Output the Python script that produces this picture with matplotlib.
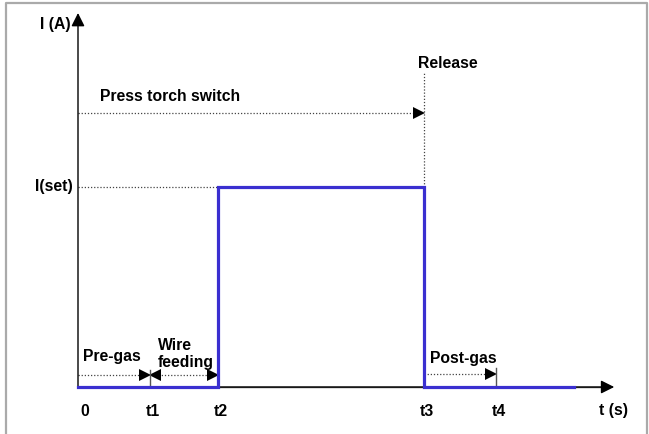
import matplotlib.pyplot as plt

plt.rcParams['font.family'] = ['Liberation Sans', 'DejaVu Sans']

# time marks (arbitrary units) and current levels
tick_names = ['0', 't1', 't2', 't3', 't4']
tick_times = [0, 1.03, 2.0, 4.94, 5.97]
t_end = 7.09
i_set = 1.0
i_press = 1.37
i_release_top = 1.575

# welding current waveform
wave_t = [0, tick_times[2], tick_times[2], tick_times[3], tick_times[3], t_end]
wave_i = [0, 0, i_set, i_set, 0, 0]

fig = plt.figure(figsize=(6.49, 4.34), dpi=100)
ax = fig.add_axes([0, 0, 1, 1])
ax.set_xlim(-78 / 70, (649 - 78) / 70)
ax.set_ylim(-(434 - 387) / 200, 387 / 200)
ax.axis('off')

# frame around the picture (left, top, right)
fig.add_artist(plt.Line2D([6 / 649, 6 / 649, 647 / 649, 647 / 649],
                          [0, 1 - 3 / 434, 1 - 3 / 434, 0],
                          color='#aaaaaa', lw=1.6, transform=fig.transFigure))

axis_col = '#555555'
# axes with arrows
ax.annotate('', xy=(7.66, 0), xytext=(0, 0),
            arrowprops=dict(arrowstyle='-|>', color=axis_col, lw=1.0, mutation_scale=20,
                            shrinkA=0, shrinkB=0, fc='black', ec='black'))
ax.plot([0, 7.5], [0, 0], color=axis_col, lw=1.0, zorder=1)
ax.annotate('', xy=(0, 1.87), xytext=(0, 0),
            arrowprops=dict(arrowstyle='-|>', color='black', lw=1.0, mutation_scale=20,
                            shrinkA=0, shrinkB=0))

# current waveform
ax.plot(wave_t, wave_i, color='#3a2fd0', lw=2.3, solid_joinstyle='miter', zorder=3)

dot = dict(color='#444444', lw=0.9, linestyle=(0, (1, 1.5)))

# I(set) guide
ax.plot([0, tick_times[2]], [i_set, i_set], **dot)
# release guide
ax.plot([tick_times[3], tick_times[3]], [i_set, i_release_top], **dot)


def dotted_arrow(x0, x1, y, both=False):
    ax.plot([x0, x1], [y, y], **dot)
    ax.plot([x1], [y], marker='>', color='black', ms=9, markeredgewidth=0)
    if both:
        ax.plot([x0], [y], marker='<', color='black', ms=9, markeredgewidth=0)


dotted_arrow(0, tick_times[3] - 0.07, i_press)
dotted_arrow(0, tick_times[1] - 0.07, 0.06)
dotted_arrow(tick_times[1] + 0.07, tick_times[2] - 0.07, 0.06, both=True)
dotted_arrow(tick_times[3], tick_times[4] - 0.07, 0.065)

# small vertical marks at t1 and t4
ax.plot([tick_times[1], tick_times[1]], [0, 0.085], color=axis_col, lw=1.0)
ax.plot([tick_times[4], tick_times[4]], [0, 0.095], color=axis_col, lw=1.0)

fs = 11.3
for name, t in zip(tick_names, tick_times):
    ax.text(t + 0.04, -0.125, name, ha='left' if name == '0' else 'center',
            va='center', fontsize=fs, fontweight='bold')
ax.text(7.44, -0.115, 't (s)', ha='left', va='center', fontsize=fs, fontweight='bold')

ax.text(-0.54, 1.815, 'I (A)', ha='left', va='center', fontsize=fs, fontweight='bold')
ax.text(-0.07, i_set, 'I(set)', ha='right', va='center', fontsize=fs, fontweight='bold')
ax.text(0.31, i_press + 0.08, 'Press torch switch', ha='left', va='center',
        fontsize=fs, fontweight='bold')
ax.text(tick_times[3] - 0.08, 1.62, 'Release', ha='left', va='center',
        fontsize=fs, fontweight='bold')
ax.text(0.07, 0.155, 'Pre-gas', ha='left', va='center', fontsize=fs, fontweight='bold')
ax.text(1.14, 0.165, 'Wire\nfeeding', ha='left', va='center', fontsize=fs,
        fontweight='bold', linespacing=1.1)
ax.text(tick_times[3] + 0.09, 0.145, 'Post-gas', ha='left', va='center',
        fontsize=fs, fontweight='bold')

fig.savefig('out.png', dpi=100)
